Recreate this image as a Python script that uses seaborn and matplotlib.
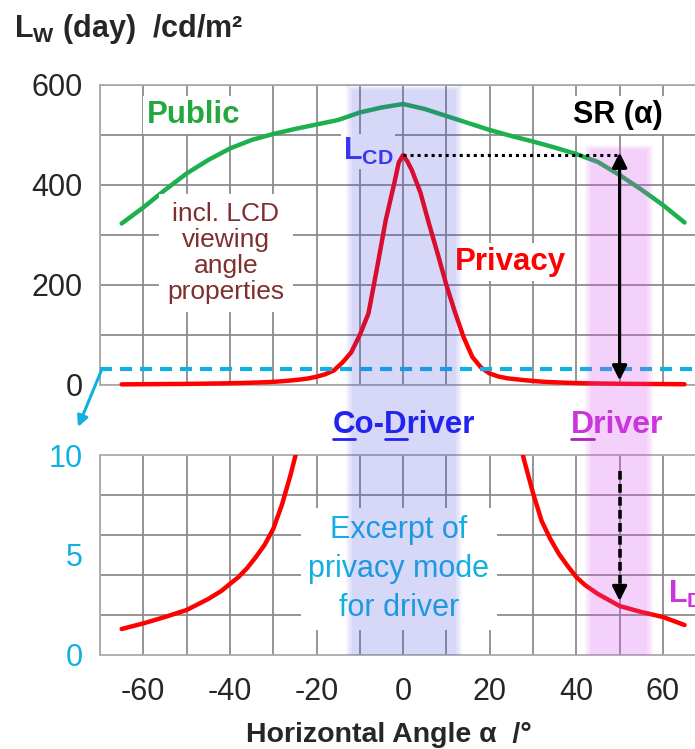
import matplotlib
matplotlib.use("Agg")
import matplotlib.pyplot as plt
import seaborn as sns
import pandas as pd
from matplotlib.lines import Line2D
from matplotlib.transforms import IdentityTransform

# ---------------- data ----------------
angles_public = [-65, -60, -55, -50, -45, -40, -35, -30, -25, -20, -15, -10, -5, 0,
                 5, 10, 15, 20, 25, 30, 35, 40, 45, 50, 55, 60, 65]
public_lum = [323, 355, 390, 423, 450, 473, 490, 502, 512, 521, 530, 545, 555, 562,
              552, 538, 524, 510, 498, 487, 475, 462, 446, 420, 391, 360, 325]

angles_privacy = [-65, -60, -55, -50, -45, -42, -40, -38, -36, -34, -32, -30, -28, -26,
                  -24, -22, -20, -18, -16, -14, -12, -10, -8, -6, -4, -2, -1, 0, 1, 2,
                  4, 6, 8, 10, 12, 14, 16, 18, 20, 22, 24, 26, 28, 30, 32, 34, 36, 38,
                  40, 42, 45, 50, 55, 60, 65]
privacy_lum = [1.3, 1.58, 1.9, 2.25, 2.8, 3.2, 3.55, 3.9, 4.35, 4.9, 5.5, 6.3, 7.5, 9.0,
               10.7, 13, 16.5, 21.5, 29, 45, 65, 100, 143, 235, 330, 405, 445, 460, 447,
               430, 385, 322, 262, 200, 145, 95, 56, 35, 23, 17, 13.5, 11.5, 9.7, 8.1,
               6.7, 5.8, 5.05, 4.45, 3.9, 3.5, 3.05, 2.45, 2.15, 1.9, 1.5]

x_tick_labels = [-60, -40, -20, 0, 20, 40, 60]
top_tick_labels = [0, 200, 400, 600]
bottom_tick_labels = [0, 5, 10]
sr_angle = 50
excerpt_level = 32
codriver_band = (-13.1, 13.5)
driver_band = (42.0, 57.7)

# ---------------- style ----------------
sns.set_style("white")
plt.rcParams['font.family'] = ['Liberation Sans', 'DejaVu Sans']
plt.rcParams['mathtext.fontset'] = 'custom'
plt.rcParams['mathtext.rm'] = 'Liberation Sans'
plt.rcParams['mathtext.bf'] = 'Liberation Sans:bold'
plt.rcParams['mathtext.it'] = 'Liberation Sans:italic'
plt.rcParams['mathtext.sf'] = 'Liberation Sans'

W, H = 695, 749
fig = plt.figure(figsize=(W / 100, H / 100), dpi=100)
fig.patch.set_facecolor('white')


def pax(l, t, r, b):
    return fig.add_axes([l / W, 1 - b / H, (r - l) / W, (b - t) / H])


def ptext(ax, x, y, s, **kw):
    return ax.text(x / W, 1 - y / H, s, transform=fig.transFigure, **kw)


XL = 100
XR = XL + 140 * 4.33
ax_top = pax(XL, 85, XR, 385)
ax_bot = pax(XL, 455, XR, 655)
ax_ov = pax(XL, 85, XR, 655)

GRID = '#8c8c8c'
SPINE = '#ababab'
GREEN = '#1db04e'
GREEN_TXT = '#22a83c'
RED = '#ff0000'
CYAN = '#12b0e0'
BLUE_TXT = '#2323ee'
MAGENTA = '#cc35dd'
FS = 22

df_pub = pd.DataFrame({'angle': angles_public, 'L': public_lum})
df_priv = pd.DataFrame({'angle': angles_privacy, 'L': privacy_lum})

line_kw = dict(linewidth=3.2, solid_joinstyle='round', solid_capstyle='round', zorder=3)
sns.lineplot(data=df_pub, x='angle', y='L', ax=ax_top, color=GREEN, clip_on=False, **line_kw)
sns.lineplot(data=df_priv, x='angle', y='L', ax=ax_top, color=RED, clip_on=False, **line_kw)
sns.lineplot(data=df_priv, x='angle', y='L', ax=ax_bot, color=RED, **line_kw)

xt = list(range(-70, 71, 10))
for ax in (ax_top, ax_bot):
    ax.set_xlim(-70, 70)
    ax.set_facecolor('white')
    ax.set_xlabel('')
    ax.set_ylabel('')
    for s in ax.spines.values():
        s.set_visible(True)
        s.set_color(SPINE)
        s.set_linewidth(1.3)
    ax.set_axisbelow(True)
    ax.set_xticks(xt)
    ax.tick_params(axis='x', length=0, labelsize=FS, pad=16)
    ax.tick_params(axis='y', which='both', length=8, width=1.3, color=SPINE,
                   labelsize=FS, pad=4.5)
    ax.xaxis.grid(True, color=GRID, linewidth=1.3)

ax_top.set_ylim(0, 600)
ax_top.set_yticks(range(0, 601, 100))
ax_top.set_yticklabels([str(v) if v in top_tick_labels else '' for v in range(0, 601, 100)])
ax_top.yaxis.grid(True, color=GRID, linewidth=1.3)
ax_top.set_xticklabels([])

ax_bot.set_ylim(0, 10)
ax_bot.set_yticks(bottom_tick_labels)
ax_bot.set_yticklabels([str(v) for v in bottom_tick_labels])
ax_bot.set_yticks(range(0, 11, 2), minor=True)
ax_bot.yaxis.grid(True, which='minor', color=GRID, linewidth=1.3)
ax_bot.yaxis.grid(False, which='major')
ax_bot.tick_params(axis='y', labelcolor=CYAN)
ax_bot.set_xticklabels([str(v) if v in x_tick_labels else '' for v in xt])

# cyan dashed excerpt level
ax_top.axhline(excerpt_level, color=CYAN, linewidth=3, linestyle=(0, (2.9, 1.9)),
               clip_on=False, zorder=4)
ax_top.annotate('', xy=(78 / W, 1 - 427 / H), xycoords='figure fraction',
                xytext=(102 / W, 1 - 369 / H), textcoords='figure fraction',
                arrowprops=dict(arrowstyle='-|>', color=CYAN, lw=2.2,
                                mutation_scale=16, shrinkA=0, shrinkB=0),
                annotation_clip=False)

# ---------------- texts ----------------
fig.text(14 / W, 1 - 37 / H, r'L$_\mathbf{W}$ (day)  /cd/m²', fontsize=22,
         fontweight='bold', ha='left', va='baseline')
white = dict(facecolor='white', edgecolor='none', pad=3)
ptext(ax_top, 194, 123, 'Public', ha='center', va='baseline', fontsize=22.5,
      fontweight='bold', color=GREEN_TXT, bbox=white, zorder=6)
ptext(ax_top, 618, 123, 'SR (α)', ha='center', va='baseline', fontsize=22,
      fontweight='bold', color='black', bbox=white, zorder=6)
ptext(ax_top, 343, 160, r'L$_\mathbf{CD}$', ha='left', va='baseline', fontsize=22,
      fontweight='bold', color='#3535f5', bbox=dict(facecolor='white', edgecolor='none', pad=1), zorder=6)
ptext(ax_top, 226, 253, 'incl. LCD\nviewing\nangle\nproperties', ha='center', va='center',
      fontsize=19, color='#7f2f2f', linespacing=1.1,
      bbox=dict(facecolor='white', edgecolor='none', pad=6), zorder=6)
ptext(ax_top, 510, 270, 'Privacy', ha='center', va='baseline', fontsize=22.5,
      fontweight='bold', color=RED, bbox=white, zorder=6)
ptext(ax_bot, 399, 569, 'Excerpt of\nprivacy mode\nfor driver', ha='center', va='center',
      fontsize=22, color=CYAN, linespacing=1.38,
      bbox=dict(facecolor='white', edgecolor='none', pad=5), zorder=6)
ptext(ax_bot, 668, 603, r'L$_\mathbf{D}$', ha='left', va='baseline', fontsize=22,
      fontweight='bold', color=MAGENTA, zorder=6)

t_co = fig.text(404 / W, 1 - 433 / H, 'Co-Driver', ha='center', va='baseline', fontsize=22.5,
                fontweight='bold', color=BLUE_TXT, zorder=8)
t_dr = fig.text(617 / W, 1 - 433 / H, 'Driver', ha='center', va='baseline', fontsize=23,
                fontweight='bold', color=MAGENTA, zorder=8)

fig.text(389 / W, 1 - 742 / H, 'Horizontal Angle α  /°', ha='center', va='baseline',
         fontsize=20.5, fontweight='bold')

# ---------------- shaded viewing zones (overlay) ----------------
ax_ov.set_xlim(-70, 70)
ax_ov.set_ylim(0, 1)
ax_ov.set_axis_off()
ax_ov.patch.set_visible(False)


def soft_band(ax, a, b, color, alpha, ytop, n=4, d=0.45):
    a_s = 1 - (1 - alpha) ** (1 / n)
    for k in range(n):
        ax.axvspan(a + k * d, b - k * d, ymin=0, ymax=ytop - k * 0.003,
                   facecolor=color, alpha=a_s, linewidth=0)


soft_band(ax_ov, codriver_band[0], codriver_band[1], '#4a4ae6', 0.22, 1.0)
soft_band(ax_ov, driver_band[0], driver_band[1], '#d84ef0', 0.25, (655 - 145) / 570)

# arrows and level line drawn above the shading (in panel data coordinates)
peak = max(privacy_lum)
ax_ov.plot([0, sr_angle], [peak, peak], color='black', linewidth=2.2,
           linestyle=(0, (1, 1.3)), transform=ax_top.transData, zorder=5)
ax_ov.annotate('', xy=(sr_angle, 9), xycoords=ax_top.transData,
               xytext=(sr_angle, peak + 5), textcoords=ax_top.transData,
               arrowprops=dict(arrowstyle='<|-|>', color='black', lw=2.3,
                               mutation_scale=22, shrinkA=0, shrinkB=0),
               annotation_clip=False, zorder=5)
ax_ov.plot([sr_angle, sr_angle], [9.2, 3.4], color='black', linewidth=2.6,
           linestyle=(0, (2.4, 1.2)), transform=ax_bot.transData, zorder=5)
ax_ov.annotate('', xy=(sr_angle, 2.7), xycoords=ax_bot.transData,
               xytext=(sr_angle, 3.5), textcoords=ax_bot.transData,
               arrowprops=dict(arrowstyle='-|>', color='black', lw=2.2,
                               mutation_scale=22, shrinkA=0, shrinkB=0),
               annotation_clip=False, zorder=5)

# underline C and D letters
fig.canvas.draw()
r = fig.canvas.get_renderer()


def underline(t, pieces, color):
    bb = t.get_window_extent(r)
    prop = t.get_fontproperties()
    y = H - 438.5
    for pre, ch in pieces:
        w0 = r.get_text_width_height_descent(pre, prop, ismath=False)[0] if pre else 0
        w1 = r.get_text_width_height_descent(pre + ch, prop, ismath=False)[0]
        fig.add_artist(Line2D([bb.x0 + w0, bb.x0 + w1], [y, y], transform=IdentityTransform(),
                              color=color, linewidth=2))


underline(t_co, [('', 'C'), ('Co-', 'D')], BLUE_TXT)
underline(t_dr, [('', 'D')], '#b020c0')

fig.savefig('out.png', dpi=100, facecolor='white')
